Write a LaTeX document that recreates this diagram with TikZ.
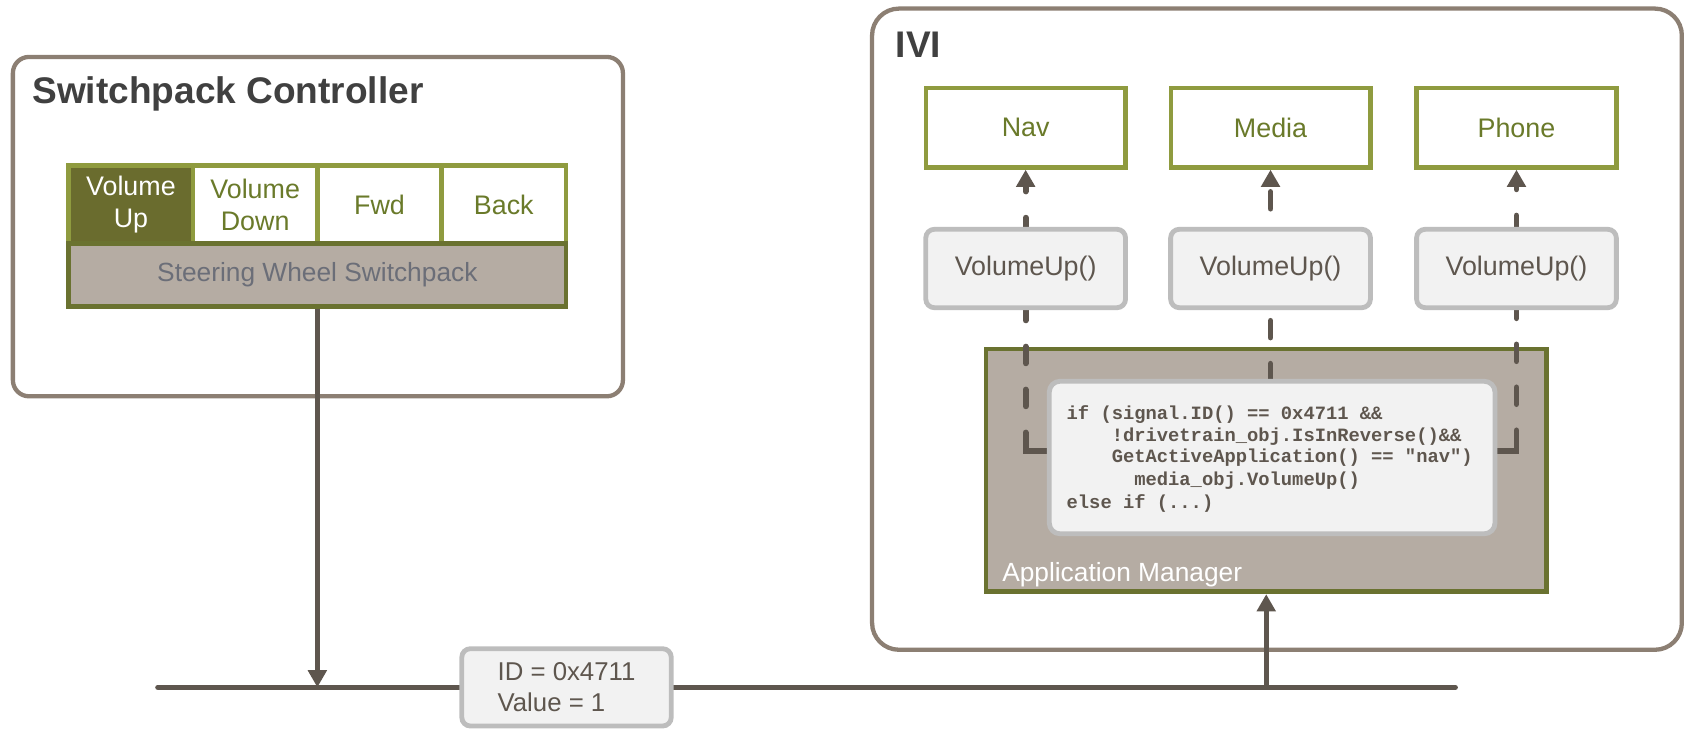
\documentclass[tikz,border=0pt]{standalone}
\usepackage{fontspec}
\setmainfont{Liberation Sans}
\newfontfamily\codefont{Liberation Mono}
\usetikzlibrary{arrows.meta}
\definecolor{taupe}{HTML}{8C7F73}
\definecolor{linec}{HTML}{5E564E}
\definecolor{olivel}{HTML}{8F9B3F}
\definecolor{olived}{HTML}{6A7230}
\definecolor{olivefill}{HTML}{6A6C2E}
\definecolor{olivet}{HTML}{6A7A2A}
\definecolor{graybox}{HTML}{B5ACA3}
\definecolor{lightfill}{HTML}{F2F2F2}
\definecolor{lightborder}{HTML}{BDBDBD}
\definecolor{titlec}{HTML}{404040}
\definecolor{swtext}{HTML}{6B6E78}
\newcommand\setfs[2]{\fontsize{#1}{#2}\selectfont}
\tikzset{
  panel/.style={draw=taupe, line width=4pt, rounded corners=15pt, fill=white},
  titletext/.style={inner sep=0pt, text=titlec, font=\setfs{34.5}{40}\bfseries},
  btn/.style={draw=olivel, line width=4.5pt, fill=white, text=olivet, minimum width=115.75pt,
    minimum height=73pt, inner sep=0pt, align=center, font=\setfs{25}{30}},
  swbox/.style={draw=olived, line width=4.5pt, fill=graybox, text=swtext, minimum width=463pt,
    minimum height=58pt, inner sep=0pt, font=\setfs{24.5}{28}},
  appbtn/.style={draw=olivel, line width=4pt, fill=white, text=olivet, minimum width=186pt,
    minimum height=74pt, inner sep=0pt, font=\setfs{25}{28}},
  fnbox/.style={draw=lightborder, line width=4.5pt, fill=lightfill, text=linec, rounded corners=8pt,
    minimum width=186pt, minimum height=73pt, inner sep=0pt, font=\setfs{25}{28}},
  appbox/.style={draw=olived, line width=4.5pt, fill=graybox, minimum width=522pt, minimum height=226pt, inner sep=0pt},
  applabel/.style={inner sep=0pt, text=white, font=\setfs{24.5}{28}},
  codebox/.style={draw=lightborder, line width=4.5pt, fill=lightfill, rounded corners=10pt,
    minimum width=415pt, minimum height=142pt, inner sep=0pt},
  codetext/.style={inner sep=0pt, anchor=base west, text=linec, font=\codefont\bfseries\setfs{17.5}{20.5}},
  idbox/.style={draw=lightborder, line width=4.5pt, fill=lightfill, text=linec, rounded corners=8pt,
    minimum width=195pt, minimum height=72pt, inner sep=0pt, align=left, font=\setfs{24}{29}},
  bus/.style={draw=linec, line width=5pt, line cap=round},
  conn/.style={draw=linec, line width=4.5pt, -{Triangle[length=16pt,width=17pt]}},
  ldash/.style={draw=linec, line width=5.5pt, line cap=round, -{Triangle[length=16pt,width=17pt]},
    dash pattern=on 42.25pt off 24.5pt on 15.5pt off 24.5pt on 15.5pt off 24.5pt on 15.5pt off 24.5pt on 15.5pt off 24.5pt on 15.5pt off 24.5pt on 15.5pt off 24.5pt},
  mdash/.style={draw=linec, line width=5.5pt, line cap=round, -{Triangle[length=16pt,width=17pt]},
    dash pattern=on 15.5pt off 24.5pt, dash phase=34.25pt}
}
\begin{document}
\begin{tikzpicture}[x=1pt,y=-1pt]
\useasboundingbox (0,0) rectangle (1568,678);
% Switchpack Controller
\node[panel, minimum width=568pt, minimum height=316pt] (sc) at (296,211) {};
\node[titletext, anchor=base west] (sctitle) at (30,96) {Switchpack Controller};
\node[btn, fill=olivefill, text=white] (vup) at (121.9,190.5) {Volume\\Up};
\node[btn] (vdown) at (237.6,190.5) {Volume\\Down};
\node[btn] (fwd) at (353.4,190.5) {Fwd};
\node[btn] (back) at (469.1,190.5) {Back};
\node[swbox] (sws) at (295.5,256) {Steering Wheel Switchpack};
% Bus
\coordinate (busL) at (147,640);
\coordinate (busR) at (1355,640);
\draw[bus] (busL) -- (busR);
\node[idbox] (sig) at (527.5,640) {ID = 0x4711\\Value = 1};
\draw[conn] (sws.south) -- (sws.south |- busL);
% IVI
\node[panel, rounded corners=25pt, minimum width=754pt, minimum height=597pt] (ivi) at (1189,306.5) {};
\node[titletext, anchor=base west] (ivititle) at (834,54) {IVI};
\node[appbox] (appm) at (1179,438) {};
\node[applabel, anchor=base west] (appmlabel) at (933,541) {Application Manager};
\draw[conn] (appm.south |- busL) -- (appm.south);
\node[appbtn] (nav) at (955,119) {Nav};
\node[appbtn] (media) at (1183,119) {Media};
\node[appbtn] (phone) at (1412,119) {Phone};
\coordinate (lstart) at (980,420);
\coordinate (rstart) at (1389,420);
\coordinate (mstart) at (1183,360);
\draw[ldash] (lstart) -| (nav.south);
\draw[ldash] (rstart) -| (phone.south);
\draw[mdash] (mstart) -- (media.south);
\node[fnbox] (fn1) at (955,250) {VolumeUp()};
\node[fnbox] (fn2) at (1183,250) {VolumeUp()};
\node[fnbox] (fn3) at (1412,250) {VolumeUp()};
\node[codebox] (code) at (1184.5,426) {};
\node[codetext] (c1) at (993,391) {if (signal.ID() == 0x4711 \&\&};
\node[codetext] (c2) at (1035,411) {!drivetrain\_obj.IsInReverse()\&\&};
\node[codetext] (c3) at (1035,431) {GetActiveApplication() == "nav")};
\node[codetext] (c4) at (1056,452) {media\_obj.VolumeUp()};
\node[codetext] (c5) at (993,473) {else if (...)};
\end{tikzpicture}
\end{document}
